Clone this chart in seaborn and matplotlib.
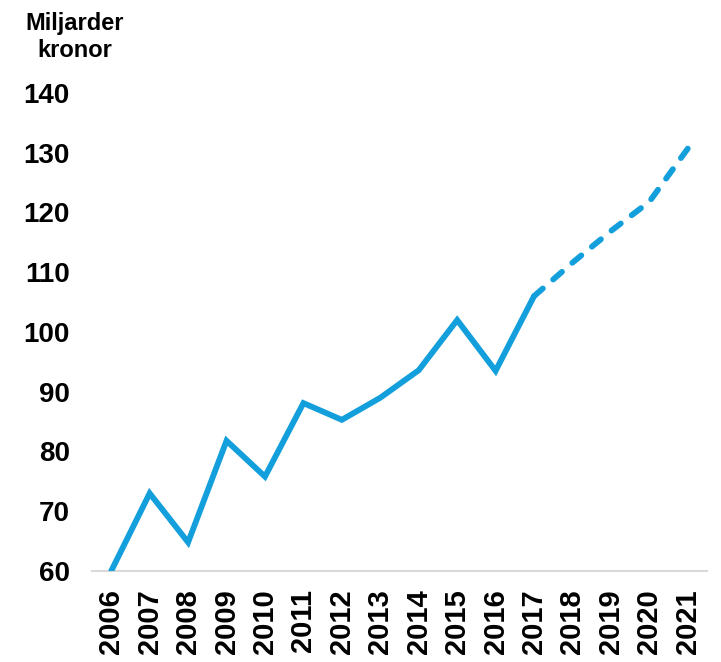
import matplotlib
matplotlib.use("Agg")
import matplotlib.pyplot as plt
import seaborn as sns
import pandas as pd

years_actual = [2006, 2007, 2008, 2009, 2010, 2011, 2012, 2013, 2014, 2015, 2016, 2017]
values_actual = [60.0, 73.0, 64.8, 81.8, 75.8, 88.1, 85.3, 89.0, 93.6, 102.0, 93.5, 106.0]
years_forecast = [2017, 2018, 2019, 2020, 2021]
values_forecast = [106.0, 111.6, 116.9, 121.8, 130.7]
y_ticks = [60, 70, 80, 90, 100, 110, 120, 130, 140]
y_label = "Miljarder\nkronor"
color = "#139fdb"

sns.set_theme(style="white")
plt.rcParams["font.family"] = ["Liberation Sans", "DejaVu Sans"]
plt.rcParams["text.color"] = "black"

fig = plt.figure(figsize=(7.21, 6.62), dpi=100)
ax = fig.add_axes([92 / 721, (662 - 571) / 662, (707 - 92) / 721, (571 - 93) / 662])

df_a = pd.DataFrame({"year": years_actual, "value": values_actual})
df_f = pd.DataFrame({"year": years_forecast, "value": values_forecast})

sns.lineplot(data=df_a, x="year", y="value", ax=ax, color=color, linewidth=4.2)
sns.lineplot(data=df_f, x="year", y="value", ax=ax, color=color, linewidth=4.2)
line = ax.get_lines()[-1]
line.set_linestyle((0, (2.0, 2.35)))
line.set_dash_capstyle("round")
ax.get_lines()[0].set_solid_capstyle("round")
ax.get_lines()[0].set_solid_joinstyle("miter")

ax.set_xlim(2005.5, 2021.5)
ax.set_ylim(60, 140)
ax.set_xticks(years_actual + years_forecast[1:])
ax.set_xticklabels([str(y) for y in years_actual + years_forecast[1:]],
                   rotation=90, fontsize=21, fontweight="bold")
ax.set_yticks(y_ticks)
ax.set_yticklabels([str(v) for v in y_ticks], fontsize=20, fontweight="bold")
ax.tick_params(axis="both", length=0, colors="black")
ax.tick_params(axis="y", pad=16)
ax.tick_params(axis="x", pad=13)
ax.set_xlabel("")
ax.set_ylabel("")

for s in ["top", "right", "left"]:
    ax.spines[s].set_visible(False)
ax.spines["bottom"].set_color("#d9d9d9")
ax.spines["bottom"].set_linewidth(1.5)
ax.spines["bottom"].set_zorder(0)

fig.text(75 / 721, 1 - 37 / 662, y_label, ha="center", va="center",
         fontsize=17, fontweight="bold", linespacing=1.2, color="black")

fig.savefig("out.png", dpi=100)
